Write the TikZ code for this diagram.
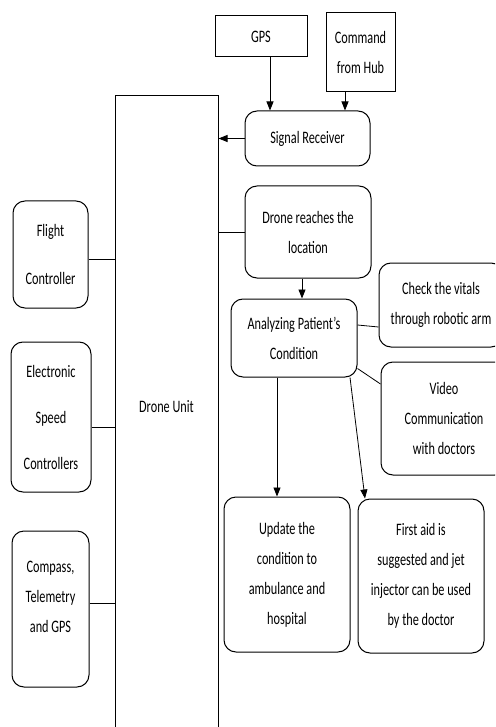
\documentclass[tikz,border=0pt]{standalone}
\usepackage{fontspec}
\setmainfont{Carlito}[FakeStretch=0.7]
\usetikzlibrary{arrows.meta}

\begin{document}
\begin{tikzpicture}[x=1pt,y=-1pt]

    \tikzset{
      sqbox/.style={
        draw,
        line width=1pt,
        inner sep=0pt,
        align=center,
        font=\fontsize{17.5}{30}\selectfont,
      },
      rbox/.style={sqbox, rounded corners=12pt},
      arr/.style={line width=0.8pt, -{Triangle[length=9pt,width=7pt]}},
      link/.style={line width=0.8pt},
    }
    \clip (0,0) rectangle (495,727);

	% inputs
	\node[sqbox, minimum width=92pt, minimum height=41pt] (gps) at (261,36.5) {GPS};
	\node[sqbox, minimum width=69pt, minimum height=79pt] (hub) at (360.5,52.5) {Command\\from Hub};

	% drone unit, open at the bottom
	\node[sqbox, anchor=base, minimum width=103pt, text height=316pt, text depth=330pt] (unit) at (166.5,412) {Drone Unit};

	% left column
	\node[rbox, minimum width=75pt, minimum height=107pt] (flight) at (50.5,254.5) {Flight\\[18pt]Controller};
	\node[rbox, minimum width=80pt, minimum height=150pt] (esc) at (51,417) {Electronic\\[16pt]Speed\\[16pt]Controllers};
	\node[rbox, minimum width=77pt, minimum height=156pt] (compass) at (50.5,609) {Compass,\\Telemetry\\and GPS\\[-6pt]};

	% right column
	\node[rbox, minimum width=125pt, minimum height=55pt] (recv) at (307.5,138.5) {Signal Receiver};
	\node[rbox, minimum width=126pt, minimum height=92pt] (reach) at (308,232) {Drone reaches the\\location};
	\node[rbox, minimum width=126pt, minimum height=78pt] (anal) at (294,338) {Analyzing Patient’s\\Condition};
	\node[rbox, minimum width=124pt, minimum height=84pt] (vitals) at (441,305) {Check the vitals\\through robotic arm};
	\node[rbox, minimum width=126pt, minimum height=113pt] (video) at (444,418.5) {Video\\Communication\\with doctors};
	\node[rbox, minimum width=126pt, minimum height=155pt] (update) at (287,574.5) {Update the\\condition to\\ambulance and\\hospital};
	\node[rbox, minimum width=126pt, minimum height=154pt] (aid) at (421,576) {First aid is\\suggested and jet\\injector can be used\\by the doctor};

	\draw[arr] ([xshift=9pt]gps.south) -- ([xshift=9pt]gps.south |- recv.north);
	\draw[arr] ([xshift=-15.5pt]hub.south) -- ([xshift=-15.5pt]hub.south |- recv.north);
	\draw[arr] (recv.west) -- (recv.west -| unit.east);
	\draw[link] (reach.west) -- (reach.west -| unit.east);
	\draw[arr] ([xshift=-6pt]reach.south) -- ([xshift=-6pt]reach.south |- anal.north);
	\draw[link] ([yshift=13pt]anal.east) -- ([yshift=-22pt]vitals.west);
	\draw[link] ([yshift=9pt]anal.south east) -- ([yshift=34.5pt]video.west);
	\draw[arr] ([xshift=-17pt]anal.south) -- ([xshift=-17pt]anal.south |- update.north);
	\draw[arr] ([xshift=56pt]anal.south) -- ([xshift=-56pt]aid.north);

	\draw[link] ([yshift=-4.5pt]flight.east) -- ([yshift=-4.5pt]flight.east -| unit.west);
	\draw[link] ([yshift=-10pt]esc.east) -- ([yshift=-10pt]esc.east -| unit.west);
	\draw[link] ([yshift=6pt]compass.east) -- ([yshift=6pt]compass.east -| unit.west);

\end{tikzpicture}
\end{document}
